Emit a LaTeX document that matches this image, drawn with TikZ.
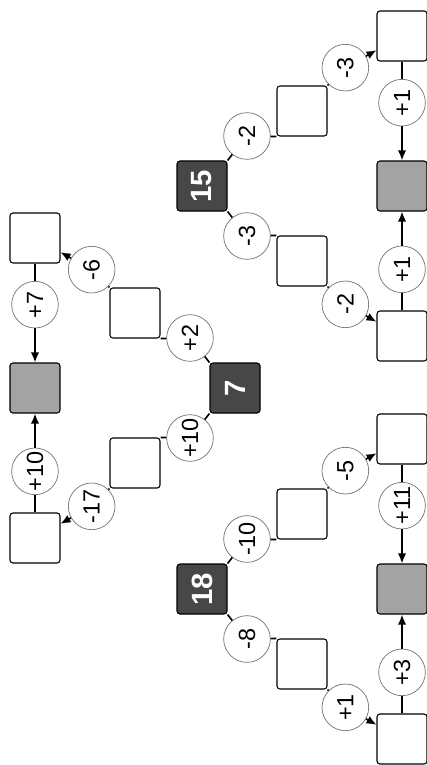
\documentclass[tikz,border=0pt]{standalone}
\usepackage{graphicx}
\usepackage{fontspec}
\setmainfont{Liberation Sans}
\usetikzlibrary{positioning,arrows.meta}

\begin{document}
\begin{tikzpicture}[x=0.03cm,y=-0.03cm,on grid,
    box/.style={draw,rounded corners=2.5pt,minimum size=1.5cm,inner sep=0pt,line width=0.9pt},
    given/.style={box,fill=black!72,text=white,font=\fontsize{25}{28}\selectfont\bfseries},
    goal/.style={box,fill=black!36},
    op/.style={circle,draw=black!55,line width=0.6pt,fill=white,minimum size=1.4cm,inner sep=0pt,rotate=90,font=\fontsize{20}{22}\selectfont},
    link/.style={line width=1.4pt},
    push/.style={line width=1.4pt,-{Latex[length=3mm,width=2.5mm]}}]
  \useasboundingbox (0,0) rectangle (427,765);

  % first puzzle
  \node[given] (a1) at (235,388) {\rotatebox{90}{7}};
  \node[box] (m1u) [above left=2.25cm and 3cm of a1] {};
  \node[box] (m1d) [below left=2.25cm and 3cm of a1] {};
  \node[box] (c1u) [above left=2.25cm and 3cm of m1u] {};
  \node[box] (c1d) [below left=2.25cm and 3cm of m1d] {};
  \node[goal] (g1) [left=6cm of a1] {};
  \node[op] (o1a) [above left=1.5cm and 1.35cm of a1] {+2};
  \node[op] (o1b) [above left=1.3cm and 1.3cm of m1u] {-6};
  \node[op] (o1c) [below left=1.5cm and 1.35cm of a1] {+10};
  \node[op] (o1d) [below left=1.3cm and 1.3cm of m1d] {-17};
  \node[op] (o1e) [above=2.5cm of g1] {+7};
  \node[op] (o1f) [below=2.5cm of g1] {+10};
  \draw[link] (a1.north west) -- (o1a);
  \draw[link] (o1a) -- (m1u.south east);
  \draw[link] (m1u.north west) -- (o1b);
  \draw[push] (o1b) -- (c1u);
  \draw[link] (a1.south west) -- (o1c);
  \draw[link] (o1c) -- (m1d.north east);
  \draw[link] (m1d.south west) -- (o1d);
  \draw[push] (o1d) -- (c1d);
  \draw[link] (c1u) -- (o1e);
  \draw[push] (o1e) -- (g1);
  \draw[link] (c1d) -- (o1f);
  \draw[push] (o1f) -- (g1);

  % second puzzle
  \node[given] (a2) at (202,186) {\rotatebox{90}{15}};
  \node[box] (m2u) [above right=2.25cm and 3cm of a2] {};
  \node[box] (m2d) [below right=2.25cm and 3cm of a2] {};
  \node[box] (c2u) [above right=2.25cm and 3cm of m2u] {};
  \node[box] (c2d) [below right=2.25cm and 3cm of m2d] {};
  \node[goal] (g2) [right=6cm of a2] {};
  \node[op] (o2a) [above right=1.5cm and 1.35cm of a2] {-2};
  \node[op] (o2b) [above right=1.3cm and 1.3cm of m2u] {-3};
  \node[op] (o2c) [below right=1.5cm and 1.35cm of a2] {-3};
  \node[op] (o2d) [below right=1.3cm and 1.3cm of m2d] {-2};
  \node[op] (o2e) [above=2.5cm of g2] {+1};
  \node[op] (o2f) [below=2.5cm of g2] {+1};
  \draw[link] (a2.north east) -- (o2a);
  \draw[link] (o2a) -- (m2u.south west);
  \draw[link] (m2u.north east) -- (o2b);
  \draw[push] (o2b) -- (c2u);
  \draw[link] (a2.south east) -- (o2c);
  \draw[link] (o2c) -- (m2d.north west);
  \draw[link] (m2d.south east) -- (o2d);
  \draw[push] (o2d) -- (c2d);
  \draw[link] (c2u) -- (o2e);
  \draw[push] (o2e) -- (g2);
  \draw[link] (c2d) -- (o2f);
  \draw[push] (o2f) -- (g2);

  % third puzzle
  \node[given] (a3) at (202,589) {\rotatebox{90}{18}};
  \node[box] (m3u) [above right=2.25cm and 3cm of a3] {};
  \node[box] (m3d) [below right=2.25cm and 3cm of a3] {};
  \node[box] (c3u) [above right=2.25cm and 3cm of m3u] {};
  \node[box] (c3d) [below right=2.25cm and 3cm of m3d] {};
  \node[goal] (g3) [right=6cm of a3] {};
  \node[op] (o3a) [above right=1.5cm and 1.35cm of a3] {-10};
  \node[op] (o3b) [above right=1.3cm and 1.3cm of m3u] {-5};
  \node[op] (o3c) [below right=1.5cm and 1.35cm of a3] {-8};
  \node[op] (o3d) [below right=1.3cm and 1.3cm of m3d] {+1};
  \node[op] (o3e) [above=2.5cm of g3] {+11};
  \node[op] (o3f) [below=2.5cm of g3] {+3};
  \draw[link] (a3.north east) -- (o3a);
  \draw[link] (o3a) -- (m3u.south west);
  \draw[link] (m3u.north east) -- (o3b);
  \draw[push] (o3b) -- (c3u);
  \draw[link] (a3.south east) -- (o3c);
  \draw[link] (o3c) -- (m3d.north west);
  \draw[link] (m3d.south east) -- (o3d);
  \draw[push] (o3d) -- (c3d);
  \draw[link] (c3u) -- (o3e);
  \draw[push] (o3e) -- (g3);
  \draw[link] (c3d) -- (o3f);
  \draw[push] (o3f) -- (g3);
\end{tikzpicture}
\end{document}
